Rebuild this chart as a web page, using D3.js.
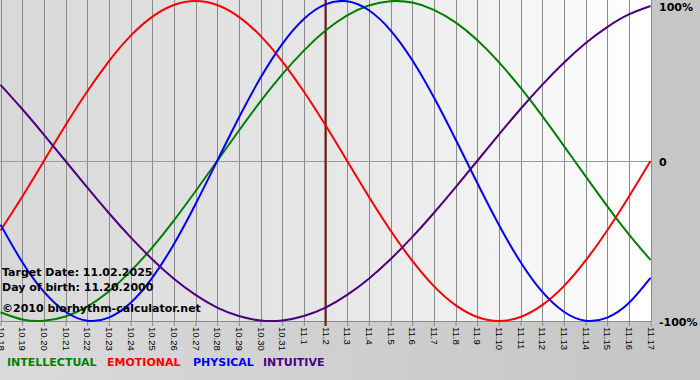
<!DOCTYPE html>
<html><head><meta charset="utf-8">
<script src="https://cdn.jsdelivr.net/npm/d3@7"></script>
<style>body{margin:0;padding:0;overflow:hidden}svg{display:block}</style>
</head><body>
<script>
const days = ["10.18","10.19","10.20","10.21","10.22","10.23","10.24","10.25","10.26","10.27","10.28","10.29","10.30","10.31","11.1","11.2","11.3","11.4","11.5","11.6","11.7","11.8","11.9","11.10","11.11","11.12","11.13","11.14","11.15","11.16","11.17"];
const physical = [-39.8,-63.1,-81.7,-94.2,-99.8,-97.9,-88.8,-73.1,-52.0,-27.0,0,27.0,52.0,73.1,88.8,97.9,99.8,94.2,81.7,63.1,39.8,13.6,-13.6,-39.8,-63.1,-81.7,-94.2,-99.8,-97.9,-88.8,-73.1];
const emotional = [-43.4,-22.3,0,22.3,43.4,62.3,78.2,90.1,97.5,100,97.5,90.1,78.2,62.3,43.4,22.3,0,-22.3,-43.4,-62.3,-78.2,-90.1,-97.5,-100,-97.5,-90.1,-78.2,-62.3,-43.4,-22.3,0];
const intellectual = [-94.5,-99.0,-99.9,-97.2,-91.0,-81.5,-69.0,-54.1,-37.2,-18.9,0,18.9,37.2,54.1,69.0,81.5,91.0,97.2,99.9,99.0,94.5,86.6,75.6,61.8,45.8,28.2,9.5,-9.5,-28.2,-45.8,-61.8];
const intuitive = [47.6,32.5,16.5,0,-16.5,-32.5,-47.6,-61.4,-73.6,-83.7,-91.6,-96.9,-99.7,-99.7,-96.9,-91.6,-83.7,-73.6,-61.4,-47.6,-32.5,-16.5,0,16.5,32.5,47.6,61.4,73.6,83.7,91.6,96.9];
const yTicks = [{v:100,t:"100%"},{v:0,t:"0"},{v:-100,t:"-100%"}];
const targetDay = "11.2";
const infoLines = ["Target Date: 11.02.2025","Day of birth: 11.20.2000","©2010 biorhythm-calculator.net"];
const legendNames = ["INTELLECTUAL","EMOTIONAL","PHYSICAL","INTUITIVE"];

const W=700,H=380;
const svg=d3.select("body").append("svg").attr("width",W).attr("height",H);
const defs=svg.append("defs");
const g1=defs.append("linearGradient").attr("id","plotbg").attr("x1","0").attr("x2","1").attr("y1","0").attr("y2","0");
g1.append("stop").attr("offset","0").attr("stop-color","#d8d8d8");
g1.append("stop").attr("offset","0.55").attr("stop-color","#e8e8e8");
g1.append("stop").attr("offset","1").attr("stop-color","#ffffff");
const g2=defs.append("linearGradient").attr("id","botbg").attr("x1","0").attr("x2","1").attr("y1","0").attr("y2","0");
g2.append("stop").attr("offset","0").attr("stop-color","#dadada");
g2.append("stop").attr("offset","1").attr("stop-color","#c6c6c6");

const x=d3.scalePoint().domain(days).range([0.5,650.5]);
const y=d3.scaleLinear().domain([-100,100]).range([321,1]);

svg.append("rect").attr("width",W).attr("height",H).attr("fill","#c6c6c6");
svg.append("rect").attr("x",0).attr("y",321).attr("width",651).attr("height",H-321).attr("fill","url(#botbg)");
svg.append("rect").attr("x",0).attr("y",0).attr("width",651).attr("height",321).attr("fill","url(#plotbg)");

// vertical grid
svg.append("g").selectAll("line").data(days).join("line")
  .attr("x1",d=>Math.round(x(d))+0.5).attr("x2",d=>Math.round(x(d))+0.5)
  .attr("y1",0).attr("y2",321).attr("stroke","#8a8a8a").attr("stroke-width",1);
// zero line
svg.append("line").attr("x1",0).attr("x2",651).attr("y1",Math.round(y(0))+0.5).attr("y2",Math.round(y(0))+0.5)
  .attr("stroke","#9a9a9a");

// bottom axis
const ax=svg.append("g").attr("transform","translate(0,321)")
  .call(d3.axisBottom(x).tickSize(5).tickSizeOuter(0));
ax.select(".domain").attr("stroke","#8a8a8a");
ax.selectAll(".tick line").attr("stroke","#8a8a8a");
ax.selectAll(".tick text").attr("font-family","Liberation Sans").attr("font-size",9.5).attr("fill","#000")
  .attr("transform","rotate(90)").attr("text-anchor","start").attr("x",6).attr("y",0).attr("dy","0.35em");

// target date line
svg.append("line").attr("x1",x(targetDay)).attr("x2",x(targetDay)).attr("y1",0).attr("y2",326)
  .attr("stroke","#7a1414").attr("stroke-width",2);

const series=[{v:intellectual,c:"#008000"},{v:emotional,c:"#ff0000"},{v:physical,c:"#0000ff"},{v:intuitive,c:"#4b0082"}];
const line=d3.line().x((d,i)=>x(days[i])).y(d=>y(d)).curve(d3.curveNatural);
svg.append("g").selectAll("path").data(series).join("path")
  .attr("d",s=>line(s.v)).attr("fill","none").attr("stroke",s=>s.c).attr("stroke-width",2);

// right labels
svg.append("g").selectAll("text").data(yTicks).join("text")
  .attr("x",659).attr("y",d=>Math.max(y(d.v)+1,7)).attr("dy","0.36em")
  .attr("font-family","DejaVu Sans").attr("font-weight","bold").attr("font-size",11).attr("fill","#000")
  .text(d=>d.t);

// info text
svg.append("g").selectAll("text").data(infoLines).join("text")
  .attr("x",2).attr("y",(d,i)=>[276,291,312][i])
  .attr("font-family","DejaVu Sans").attr("font-weight","bold").attr("font-size",11).attr("fill","#000")
  .text(d=>d);

// legend
const legX=[7,107,193,263];
svg.append("g").selectAll("text").data(legendNames).join("text")
  .attr("x",(d,i)=>legX[i]).attr("y",366)
  .attr("font-family","DejaVu Sans").attr("font-weight","bold").attr("font-size",11)
  .attr("fill",(d,i)=>series[i].c).text(d=>d);
</script>
</body></html>
